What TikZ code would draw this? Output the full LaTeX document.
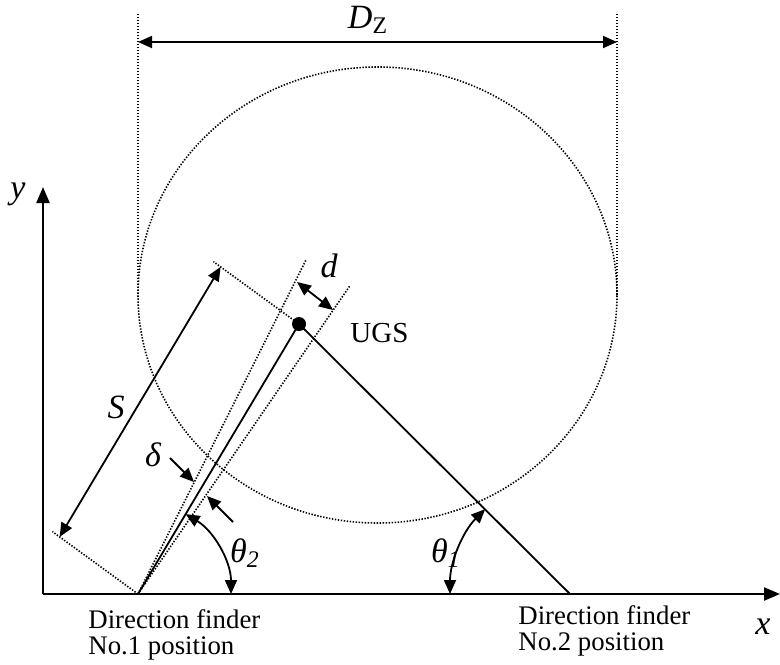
\documentclass[tikz,border=0pt]{standalone}
\usepackage{fontspec}
\setmainfont{Liberation Serif}
\usetikzlibrary{arrows.meta}
\begin{document}
\begin{tikzpicture}[x=0.5pt,y=-0.5pt,
  tipend/.style={line width=0.9pt,-{Triangle[length=7pt,width=6pt]}},
  dimline/.style={line width=0.9pt,{Triangle[length=7pt,width=6pt]}-{Triangle[length=7pt,width=6pt]}},
  guide/.style={line width=0.8pt,dash pattern=on 0.7pt off 0.8pt},
  axis/.style={line width=1.1pt,-{Triangle[length=8pt,width=6.5pt]}},
  ray/.style={line width=0.9pt},
  lab/.style={font=\fontsize{13.4}{15}\selectfont, inner sep=0pt},
  mlab/.style={font=\fontsize{17}{19}\selectfont\itshape, inner sep=0pt}]
\useasboundingbox (0,0) rectangle (780,664);
% key points
\coordinate (O) at (43,594);
\coordinate (xend) at (780,594);
\coordinate (yend) at (43,187);
\coordinate (DFa) at (138,594);
\coordinate (DFb) at (570,594);
\node[circle,fill,inner sep=0pt,minimum size=7pt] (UGS) at (299,324) {};
% zone circle and its diameter
\draw[guide] (377.5,295) ellipse [x radius=119.75pt, y radius=114pt];
\coordinate (Dlt) at (138,14); \coordinate (Dlb) at (138,295);
\coordinate (Drt) at (617,14); \coordinate (Drb) at (617,295);
\draw[guide] (Dlt) -- (Dlb);
\draw[guide] (Drt) -- (Drb);
\coordinate (DZa) at (138,42); \coordinate (DZb) at (617,42);
\draw[dimline] (DZa) -- (DZb);
\node[mlab] (DZ) at (368,20) {D\textsubscript{\upshape Z}};
% axes
\draw[axis] (O) -- (xend);
\draw[axis] (O) -- (yend);
\node[mlab] (xl) at (763,627) {x};
\node[mlab] (yl) at (18,194) {y};
% bearing wedge
\coordinate (W1) at (306.5,259);
\coordinate (W2) at (350.4,285);
\draw[guide] (DFa) -- (W1);
\draw[guide] (DFa) -- (W2);
% rays
\draw[ray] (DFa) -- (UGS.center);
\draw[ray] (UGS.center) -- (DFb);
% d
\coordinate (da) at (297,282); \coordinate (db) at (333,310);
\draw[dimline] (da) -- (db);
\node[mlab] (dl) at (329,266) {d};
\node[lab,anchor=west,font=\fontsize{14.5}{16}\selectfont] (ugsl) at (350,333) {UGS};
% S
\coordinate (Sb1) at (52.4,531.6); \coordinate (St1) at (213.4,261.6);
\draw[guide] (DFa) -- (Sb1);
\draw[guide] (UGS.center) -- (St1);
\coordinate (Sa) at (59.6,536.9); \coordinate (Sz) at (220.6,266.9);
\draw[dimline] (Sa) -- (Sz);
\node[mlab] (Sl) at (116,407) {S};
% delta
\coordinate (da1) at (170,458); \coordinate (da2) at (194,482);
\coordinate (db1) at (233,522); \coordinate (db2) at (207,496);
\draw[tipend] (da1) -- (da2);
\draw[tipend] (db1) -- (db2);
\node[mlab] (dell) at (153,455) {δ};
% angles
\draw[dimline] (231,594) arc[start angle=0,end angle=59.2,radius=46.5pt];
\node[mlab] (t2) at (245,553) {θ\textsubscript{2}};
\draw[dimline] (485.15,509.15) arc[start angle=135,end angle=180,radius=60pt];
\node[mlab] (t1) at (446,553) {θ\textsubscript{1}};
% labels
\node[lab,anchor=west] (df1a) at (88,619) {Direction finder};
\node[lab,anchor=west] (df1b) at (88,648) {No.1 position};
\node[lab,anchor=west] (df2a) at (518,615) {Direction finder};
\node[lab,anchor=west] (df2b) at (518,644) {No.2 position};
\end{tikzpicture}
\end{document}
